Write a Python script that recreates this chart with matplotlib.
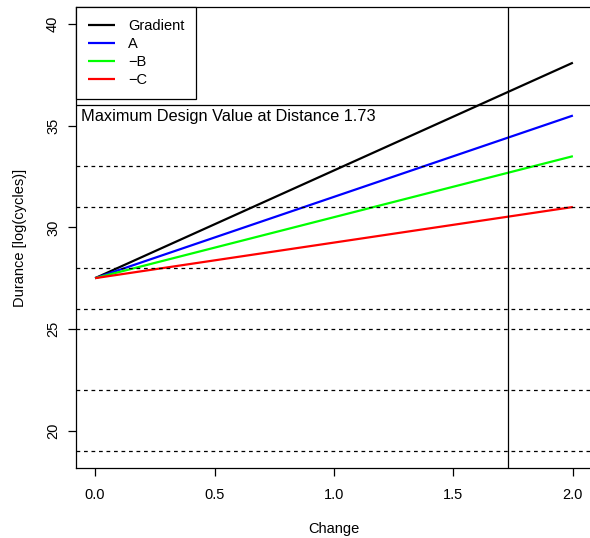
import matplotlib
matplotlib.use("Agg")
import matplotlib.pyplot as plt
import numpy as np

plt.rcParams['font.family'] = ['Liberation Sans', 'DejaVu Sans']

x_vals = [0.0, 2.0]
series_names = ["Gradient", "A", "\u2212B", "\u2212C"]
series_start = [27.5, 27.5, 27.5, 27.5]
series_end = [38.1, 35.5, 33.5, 31.0]
series_colors = ["black", "#0000FF", "#00FF00", "#FF0000"]
dashed_levels = [33, 31, 28, 26, 25, 22, 19]
max_design = 36
distance = 1.73
x_ticks = [0.0, 0.5, 1.0, 1.5, 2.0]
y_ticks = [20, 25, 30, 35, 40]

FS = 10.5

fig = plt.figure(figsize=(5.9, 5.38), dpi=100)
ax = fig.add_axes([76/590, 1-468/538, (592-76)/590, (468-7)/538])

for name, s, e, c in zip(series_names, series_start, series_end, series_colors):
    ax.plot(x_vals, [s, e], color=c, lw=1.6, label=name, solid_capstyle='butt')

for lv in dashed_levels:
    ax.axhline(lv, color='black', lw=0.9, ls=(0, (3, 3)))
ax.axhline(max_design, color='black', lw=0.9)
ax.axvline(distance, color='black', lw=0.9)

ax.text(-0.06, max_design - 0.2, "Maximum Design Value at Distance %.2f" % distance,
        ha='left', va='top', fontsize=11.8)

ax.set_xlim(-0.08, 2.08)
ax.set_ylim(18.16, 40.84)
ax.set_xticks(x_ticks)
ax.set_xticklabels(["%.1f" % t for t in x_ticks])
ax.set_yticks(y_ticks)
ax.set_yticklabels([str(t) for t in y_ticks], rotation=90, va='center')
ax.tick_params(direction='out', length=5.5, width=0.9, labelsize=FS)
ax.tick_params(axis='x', pad=9)
ax.tick_params(axis='y', pad=6)
for sp in ax.spines.values():
    sp.set_linewidth(0.9)
ax.spines['right'].set_visible(False)

ax.set_xlabel("Change", fontsize=FS, labelpad=14)
ax.set_ylabel("Durance [log(cycles)]", fontsize=FS, labelpad=14)

leg = ax.legend(loc='upper left', borderaxespad=0, fancybox=False, edgecolor='black',
                framealpha=1, fontsize=FS, handlelength=1.9, handletextpad=0.85,
                labelspacing=0.28, borderpad=0.8)
leg.get_frame().set_linewidth(0.9)

fig.savefig("out.png", dpi=100)
